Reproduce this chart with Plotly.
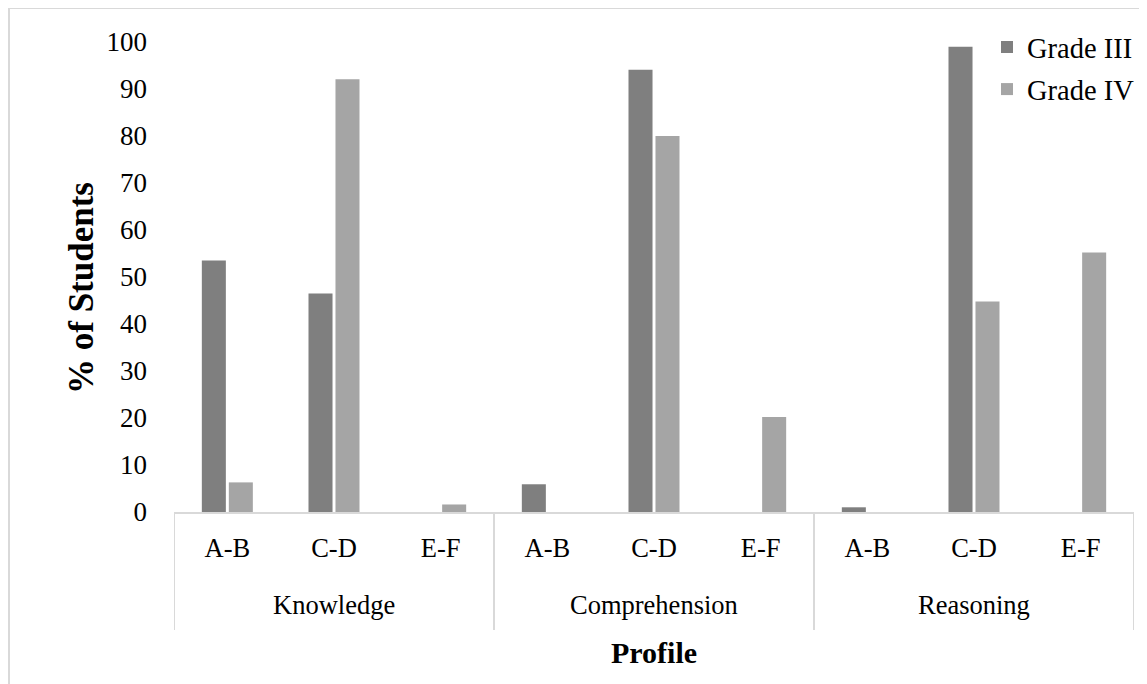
import plotly.graph_objects as go

dimensions = ["Knowledge", "Comprehension", "Reasoning"]
profiles = ["A-B", "C-D", "E-F"]
grade3 = [53.5, 46.5, 0, 5.9, 94.1, 0, 1.0, 99.0, 0]
grade4 = [6.3, 92.1, 1.6, 0, 80.0, 20.2, 0, 44.8, 55.2]
y_ticks = [0, 10, 20, 30, 40, 50, 60, 70, 80, 90, 100]

n_prof = len(profiles)
x_pos = list(range(len(dimensions) * n_prof))
x_text = profiles * len(dimensions)

FONT = "Liberation Serif, Times New Roman, serif"
GRID = "#d9d9d9"

# figure geometry (page body offsets the figure by 8 px)
W, H = 1147, 684
L, T = 166, 34
R, B = 21, 180
pw = W - L - R
ph = H - T - B

def py(fig_y):
    """figure pixel y -> paper fraction"""
    return (T + ph - fig_y) / ph

def px(fig_x):
    return (fig_x - L) / pw

fig = go.Figure()
fig.add_trace(go.Bar(x=x_pos, y=grade3, name="Grade III",
                     marker=dict(color="#7f7f7f", line=dict(width=0)),
                     legendgroup="g3"))
fig.add_trace(go.Bar(x=x_pos, y=grade4, name="Grade IV",
                     marker=dict(color="#a5a5a5", line=dict(width=0)),
                     legendgroup="g4"))

shapes = []
# group dividers below the axis
for k in range(len(dimensions) + 1):
    xd = k * n_prof - 0.5
    shapes.append(dict(type="line", xref="x", yref="paper", x0=xd, x1=xd,
                       y0=0, y1=py(622), line=dict(color=GRID, width=2)))
# chart border
shapes.append(dict(type="rect", xref="paper", yref="paper",
                   x0=px(1), x1=px(W + 10), y0=py(H + 10), y1=py(0),
                   line=dict(color=GRID, width=2), fillcolor="rgba(0,0,0,0)",
                   layer="below"))

annotations = []
for k, d in enumerate(dimensions):
    annotations.append(dict(text=d, xref="x", yref="paper", x=k * n_prof + (n_prof - 1) / 2,
                            y=py(597), showarrow=False, yanchor="middle",
                            font=dict(family=FONT, size=26.5, color="black")))
annotations.append(dict(text="<b>Profile</b>", xref="paper", yref="paper",
                        x=0.5, y=py(644), showarrow=False, yanchor="middle",
                        font=dict(family=FONT, size=30, color="black")))
annotations.append(dict(text="<b>% of Students</b>", xref="paper", yref="paper",
                        x=px(73), y=py(280), textangle=-90, showarrow=False,
                        xanchor="center", yanchor="middle",
                        font=dict(family=FONT, size=35, color="black")))

fig.update_layout(
    width=W, height=H,
    margin=dict(l=L, r=R, t=T, b=B, autoexpand=False),
    paper_bgcolor="white", plot_bgcolor="white",
    font=dict(family=FONT, size=27, color="black"),
    barmode="group", bargap=0.494, bargroupgap=0.11,
    showlegend=True,
    legend=dict(x=px(979), y=py(14), xanchor="left", yanchor="top",
                font=dict(family=FONT, size=28.5), bgcolor="rgba(0,0,0,0)",
                tracegroupgap=2, itemwidth=30),
    xaxis=dict(range=[-0.5, len(x_pos) - 0.5], tickvals=x_pos, ticktext=x_text,
               showline=True, linecolor=GRID, linewidth=2, ticks="",
               tickfont=dict(family=FONT, size=26.5), ticklabelstandoff=11,
               showgrid=False, zeroline=False, automargin=False),
    yaxis=dict(range=[0, 100], tickvals=y_ticks, ticks="", showline=False,
               showgrid=False, zeroline=False, ticklabelstandoff=26,
               tickfont=dict(family=FONT, size=27), automargin=False),
    shapes=shapes,
    annotations=annotations,
)

fig.write_html("out.html")
